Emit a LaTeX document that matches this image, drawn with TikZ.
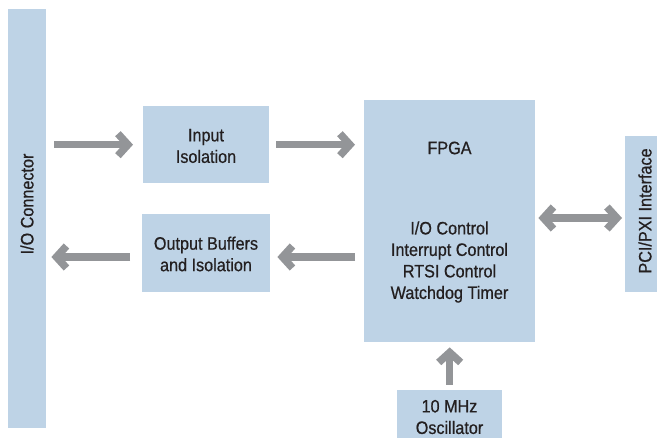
\documentclass[tikz,border=0pt]{standalone}
\usepackage{fontspec}
\setmainfont{Liberation Sans}[FakeStretch=0.9,FakeBold=0.6]
\usetikzlibrary{arrows.meta}
\definecolor{boxblue}{HTML}{BED3E6}
\definecolor{arrowgray}{HTML}{939598}
\definecolor{txt}{HTML}{231F20}
\begin{document}
\begin{tikzpicture}[x=1pt,y=-1pt,
  box/.style={fill=boxblue, draw=none, inner sep=0pt, anchor=north west},
  lbl/.style={text=txt, font=\fontsize{18}{21.5}\selectfont, align=center, inner sep=0pt},
  tip/.tip={Straight Barb[length=10pt,width=22pt,line join=miter]},
  flow/.style={draw=arrowgray, line width=7.5pt, -tip},
  both/.style={draw=arrowgray, line width=7.5pt, tip-tip}]
\useasboundingbox (0,0) rectangle (657,438);
% boxes
\node[box, minimum width=38pt, minimum height=419pt] (io) at (8,9) {};
\node[box, minimum width=126pt, minimum height=77pt] (inp) at (143,106) {};
\node[box, minimum width=128pt, minimum height=78pt] (out) at (142,214) {};
\node[box, minimum width=171pt, minimum height=242pt] (fpga) at (364,100) {};
\node[box, minimum width=40pt, minimum height=156pt] (pci) at (625,136) {};
\node[box, minimum width=105pt, minimum height=50pt] (osc) at (397,390) {};
% labels
\node[lbl, rotate=90] (iot) at (27,204) {I/O Connector};
\node[lbl] (inpt) at (206,146) {Input\\Isolation};
\node[lbl] (outt) at (206,254) {Output Buffers\\and Isolation};
\node[lbl] (fpgat) at (449.5,148) {FPGA};
\node[lbl] (fpgal) at (449.5,262) {I/O Control\\Interrupt Control\\RTSI Control\\Watchdog Timer};
\node[lbl, rotate=90] (pcit) at (645,211) {PCI/PXI Interface};
\node[lbl] (osct) at (449.5,417) {10 MHz\\Oscillator};
% connectors
\coordinate (m) at (580,218);
\coordinate (r) at (250,257);
\draw[flow, shorten <=8pt, shorten >=10pt] (io.east |- inp.west) -- (inp.west);
\draw[flow, shorten <=7pt, shorten >=9pt] (inp.east) -- (fpga.west |- inp.east);
\draw[flow, shorten <=9pt, shorten >=7pt] (fpga.west |- r) -- (out.east |- r);
\draw[flow, shorten <=12pt, shorten >=5pt] (out.west |- r) -- (io.east |- r);
\draw[both, shorten <=3pt, shorten >=3pt] (fpga.east |- m) -- (pci.west |- m);
\draw[flow, shorten <=5pt, shorten >=5pt] (osc.north) -- (fpga.south);
\end{tikzpicture}
\end{document}
